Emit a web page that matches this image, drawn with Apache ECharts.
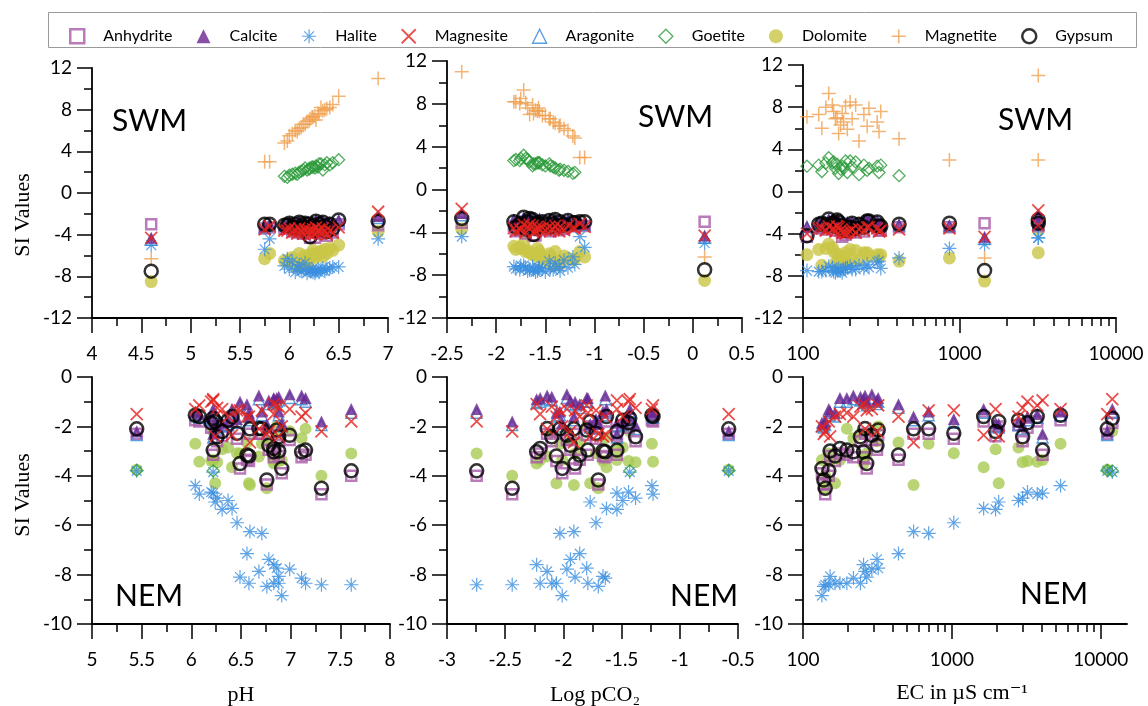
<!DOCTYPE html>
<html>
<head>
<meta charset="utf-8">
<script src="https://cdn.jsdelivr.net/npm/echarts@6/dist/echarts.min.js"></script>
<style>
  html, body { margin: 0; padding: 0; background: #fff; }
  #chart { width: 1148px; height: 706px; }
</style>
</head>
<body>
<div id="chart"></div>
<script>
// ---- SWM samples (top row) ----
const swmPH   = [4.6, 6.9, 5.8, 5.75, 5.95, 5.98, 6.00, 6.03, 6.06, 6.08, 6.10, 6.12, 6.14, 6.16, 6.18, 6.20, 6.21, 6.23, 6.24, 6.26, 6.27, 6.29, 6.30, 6.32, 6.34, 6.36, 6.38, 6.41, 6.44, 6.50];
const swmPCO2 = [0.12, -2.35, -1.15, -1.10, -1.20, -1.22, -1.27, -1.31, -1.35, -1.36, -1.40, -1.42, -1.45, -1.46, -1.50, -1.53, -1.62, -1.56, -1.58, -1.60, -1.66, -1.57, -1.68, -1.80, -1.63, -1.76, -1.70, -1.82, -1.75, -1.72];
const swmEC   = [1446, 3186, 3186, 862, 228, 411, 169, 306, 132, 192, 257, 174, 182, 298, 161, 206, 106, 245, 126, 178, 165, 314, 157, 217, 264, 140, 187, 154, 200, 146];
const swmAnhydrite = [-3.0, -3.1, -3.3, -3.4, -3.4, -3.4, -3.3, -3.7, -3.4, -3.8, -3.2, -3.6, -3.9, -3.3, -3.7, -3.4, -4.3, -3.8, -3.5, -4.3, -3.1, -3.7, -3.4, -3.9, -3.2, -3.6, -4.1, -3.4, -3.8, -3.0];
const swmCalcite   = [-4.3, -2.2, -3.0, -3.2, -3.0, -3.1, -2.8, -3.0, -3.2, -2.9, -2.7, -3.1, -2.9, -2.8, -3.2, -2.9, -3.3, -2.7, -2.9, -3.1, -2.6, -3.0, -2.8, -3.1, -2.7, -2.9, -3.0, -2.8, -3.0, -2.6];
const swmHalite    = [-5.0, -4.4, -4.4, -5.4, -7.0, -6.3, -7.3, -6.6, -7.6, -7.2, -6.9, -7.5, -7.4, -6.7, -7.7, -7.4, -7.5, -7.3, -7.6, -7.7, -7.5, -7.3, -7.6, -7.4, -7.2, -7.5, -7.3, -7.2, -7.1, -7.1];
const swmMagnesite = [-4.3, -1.8, -3.2, -3.5, -3.6, -3.6, -3.4, -3.8, -3.5, -3.9, -3.4, -3.7, -3.9, -3.5, -3.8, -3.6, -4.0, -3.7, -3.5, -3.9, -3.3, -3.7, -3.5, -3.9, -3.4, -3.7, -4.0, -3.6, -3.8, -3.3];
const swmAragonite = [-4.5, -2.4, -3.1, -3.3, -3.1, -3.2, -2.9, -3.1, -3.3, -3.0, -2.8, -3.2, -3.0, -2.9, -3.3, -3.0, -3.4, -2.8, -3.0, -3.2, -2.7, -3.1, -2.9, -3.2, -2.8, -3.0, -3.1, -2.9, -3.1, -2.7];
const swmGoetite   = [null, null, null, null, 1.6, 1.5, 1.7, 1.8, 1.9, 1.8, 2.0, 2.1, 2.2, 2.4, 2.2, 2.3, 2.4, 2.5, 2.5, 2.4, 2.6, 2.5, 2.8, 2.8, 2.2, 2.7, 2.9, 2.7, 2.9, 3.2];
const swmDolomite  = [-8.5, -3.7, -5.8, -6.3, -6.5, -6.6, -6.4, -6.2, -7.0, -6.6, -5.8, -7.1, -6.2, -6.0, -6.8, -6.5, -6.0, -5.8, -5.5, -6.2, -5.9, -6.0, -5.7, -5.6, -6.1, -5.4, -5.8, -5.3, -5.5, -5.0];
const swmMagnetite = [-6.3, 11.0, 3.0, 3.0, 4.8, 5.0, 5.5, 5.7, 6.0, 5.9, 6.2, 6.3, 6.6, 6.6, 6.9, 6.9, 7.1, 7.3, 7.3, 7.4, 7.0, 7.6, 7.6, 8.2, 7.9, 8.0, 8.1, 8.2, 8.5, 9.3];
const swmGypsum    = [-7.5, -2.7, -3.0, -3.0, -3.1, -3.1, -2.9, -3.3, -3.0, -3.4, -2.8, -3.2, -3.5, -2.9, -3.3, -3.0, -4.2, -3.4, -3.1, -3.6, -2.7, -3.3, -3.0, -3.5, -2.8, -3.2, -3.7, -3.0, -3.4, -2.6];

// ---- NEM samples (bottom row) ----
const nemPH   = [6.91, 6.76, 7.31, 7.61, 6.58, 6.83, 6.88, 7.15, 7.11, 6.49, 6.88, 6.68, 6.99, 6.86, 6.83, 6.78, 6.56, 6.71, 6.59, 6.46, 6.31, 6.41, 6.24, 6.37, 6.26, 6.08, 6.22, 6.20, 6.04, 6.22, 5.45];
const nemPCO2 = [-2.01, -1.70, -2.44, -2.745, -2.06, -2.20, -2.10, -1.79, -1.64, -1.90, -1.66, -2.14, -1.97, -1.80, -2.23, -1.94, -1.86, -2.03, -1.91, -1.72, -1.54, -1.63, -1.77, -1.49, -1.38, -1.23, -1.54, -1.44, -1.24, -1.43, -0.58];
const nemEC   = [134, 138, 141, 149, 164, 177, 243, 197, 218, 268, 152, 261, 290, 320, 255, 314, 438, 698, 553, 1030, 1966, 1634, 2063, 2800, 2985, 3742, 4066, 3219, 5370, 11950, 11050];
const nemAnhydrite = [-3.90, -4.35, -4.75, -4.00, -3.40, -3.10, -2.60, -3.15, -3.25, -3.70, -3.20, -2.30, -2.55, -2.35, -3.25, -2.95, -3.35, -2.30, -2.30, -2.50, -2.40, -1.80, -2.00, -1.95, -2.60, -1.80, -3.15, -2.05, -1.75, -1.85, -2.30];
const nemCalcite   = [-1.85, -1.90, -1.80, -1.30, -1.45, -0.85, -0.80, -0.85, -0.75, -1.00, -1.40, -0.75, -0.70, -0.85, -0.90, -0.95, -1.10, -1.40, -1.60, -1.70, -1.85, -1.30, -1.90, -1.80, -1.95, -1.50, -2.30, -1.60, -1.40, -1.30, -2.20];
const nemHalite    = [-8.85, -8.48, -8.41, -8.41, -8.35, -8.35, -8.35, -8.35, -8.14, -8.10, -8.07, -7.87, -7.78, -7.74, -7.60, -7.38, -7.15, -6.33, -6.26, -5.90, -5.36, -5.32, -5.06, -5.00, -4.90, -4.74, -4.70, -4.66, -4.40, -3.85, -3.80];
const nemMagnesite = [-2.00, -2.30, -2.20, -1.80, -1.60, -1.50, -1.20, -1.45, -1.60, -1.35, -2.40, -2.10, -1.30, -1.15, -1.10, -2.20, -1.60, -1.35, -2.65, -1.35, -1.30, -2.35, -2.40, -1.60, -1.25, -1.15, -0.95, -1.00, -1.30, -0.90, -1.50];
const nemAragonite = [-2.00, -2.05, -1.95, -1.45, -1.60, -1.00, -0.95, -1.00, -0.90, -1.15, -1.55, -0.90, -0.85, -1.00, -1.05, -1.10, -1.25, -1.55, -1.75, -1.85, -2.00, -1.45, -2.05, -1.95, -2.10, -1.65, -2.45, -1.75, -1.55, -1.45, -2.35];
const nemGoetite   = [null, null, null, null, null, null, null, null, null, null, null, null, null, null, null, null, null, null, null, null, null, null, null, null, null, null, null, null, null, -3.80, -3.78];
const nemDolomite  = [-3.36, -4.50, -4.00, -3.10, -4.30, -3.36, -2.30, -2.10, -2.48, -3.10, -3.40, -3.22, -2.20, -2.00, -3.50, -2.60, -2.65, -2.70, -4.37, -3.09, -2.93, -3.65, -4.30, -2.85, -3.45, -3.43, -3.36, -3.40, -2.70, -2.20, -3.75];
const nemMagnetite = [];
const nemGypsum    = [-3.70, -4.17, -4.50, -3.80, -3.20, -2.89, -2.42, -2.96, -3.03, -3.50, -3.00, -2.09, -2.36, -2.15, -3.03, -2.76, -3.16, -2.10, -2.10, -2.28, -2.21, -1.60, -1.80, -1.75, -2.42, -1.60, -2.96, -1.85, -1.55, -1.67, -2.10];

// ---- axis ticks ----
const ecLabels = [100, 1000, 10000];
const ecMinor = [200, 300, 400, 500, 600, 700, 800, 900, 2000, 3000, 4000, 5000, 6000, 7000, 8000, 9000];

const minerals = ['Anhydrite', 'Calcite', 'Halite', 'Magnesite', 'Aragonite', 'Goetite', 'Dolomite', 'Magnetite', 'Gypsum'];
const drawOrder = ['Dolomite', 'Anhydrite', 'Halite', 'Goetite', 'Magnetite', 'Aragonite', 'Calcite', 'Gypsum', 'Magnesite'];
const swm = { Anhydrite: swmAnhydrite, Calcite: swmCalcite, Halite: swmHalite, Magnesite: swmMagnesite, Aragonite: swmAragonite, Goetite: swmGoetite, Dolomite: swmDolomite, Magnetite: swmMagnetite, Gypsum: swmGypsum };
const nem = { Anhydrite: nemAnhydrite, Calcite: nemCalcite, Halite: nemHalite, Magnesite: nemMagnesite, Aragonite: nemAragonite, Goetite: nemGoetite, Dolomite: nemDolomite, Magnetite: nemMagnetite, Gypsum: nemGypsum };

const SANS = 'Lato, "Open Sans", sans-serif';
const SERIF = '"Liberation Serif", "DejaVu Serif", serif';
const NONE = 'rgba(0,0,0,0)';
const ASTERISK = 'path://M5 0L5 10M0 5L10 5M1.5 1.5L8.5 8.5M8.5 1.5L1.5 8.5';
const CROSS = 'path://M0 0L10 10M10 0L0 10';
const PLUS = 'path://M5 0L5 10M0 5L10 5';
// square-proportioned paths so legend icons keep their aspect
const SQUARE = 'path://M0 0L10 0L10 10L0 10Z';
const TRIANGLE = 'path://M5 0L10 10L0 10Z';
const DIAMOND = 'path://M5 0L10 5L5 10L0 5Z';

const look = {
  Anhydrite: { symbol: 'rect', icon: SQUARE, size: 10, itemStyle: { color: NONE, borderColor: '#a95aa9', borderWidth: 2.5 } },
  Calcite:   { symbol: 'triangle', icon: TRIANGLE, size: 12, itemStyle: { color: '#6a2590' } },
  Halite:    { symbol: ASTERISK, size: 14, itemStyle: { color: NONE, borderColor: '#3a8ee0', borderWidth: 1.2 } },
  Magnesite: { symbol: CROSS, size: 12, itemStyle: { color: NONE, borderColor: '#e4231f', borderWidth: 1.8 } },
  Aragonite: { symbol: 'triangle', icon: TRIANGLE, size: 11, itemStyle: { color: NONE, borderColor: '#2f86d6', borderWidth: 1.4 } },
  Goetite:   { symbol: 'diamond', icon: DIAMOND, size: 12, itemStyle: { color: NONE, borderColor: '#2a9a3a', borderWidth: 1.3 } },
  Dolomite:  { symbol: 'circle', size: 12, itemStyle: { color: '#c9c646' } },
  Magnetite: { symbol: PLUS, size: 14, itemStyle: { color: NONE, borderColor: '#f0a050', borderWidth: 1.5 } },
  Gypsum:    { symbol: 'circle', size: 13, itemStyle: { color: NONE, borderColor: '#000', borderWidth: 2.5 } }
};

const grids = [
  { left: 92, top: 68, width: 296, height: 250 },
  { left: 447, top: 61, width: 295, height: 257 },
  { left: 803, top: 65, width: 313, height: 253 },
  { left: 92, top: 377, width: 298, height: 247 },
  { left: 447, top: 377, width: 291, height: 247 },
  { left: 803, top: 377, width: 324, height: 247 }
].map(g => Object.assign({ outerBoundsMode: 'none' }, g));

const lineStyle = { color: '#000', width: 1.8 };
const tickStyle = { color: '#000', width: 1.5 };

function valueAxis(gridIndex, min, max, interval, margin) {
  return {
    gridIndex, type: 'value', min, max, interval,
    axisLine: { show: true, onZero: false, lineStyle },
    axisTick: { show: true, length: 15, lineStyle: tickStyle },
    minorTick: { show: true, splitNumber: 2, length: 8, lineStyle: tickStyle },
    splitLine: { show: false },
    axisLabel: { color: '#000', fontFamily: SANS, fontSize: 19, margin }
  };
}
function logAxis(gridIndex, max) {
  return {
    gridIndex, type: 'log', logBase: 10, min: 100, max, position: 'bottom',
    axisLine: { show: true, onZero: false, lineStyle },
    axisTick: { show: true, length: 15, lineStyle: tickStyle, customValues: ecLabels },
    splitLine: { show: false },
    axisLabel: { color: '#000', fontFamily: SANS, fontSize: 19, margin: 26, customValues: ecLabels, formatter: v => String(Math.round(v)) }
  };
}
function logMinorAxis(gridIndex, max) {
  return {
    gridIndex, type: 'log', logBase: 10, min: 100, max, position: 'bottom',
    axisLine: { show: false, onZero: false },
    axisTick: { show: true, length: 8, lineStyle: tickStyle, customValues: ecMinor },
    splitLine: { show: false },
    axisLabel: { show: false }
  };
}

const xAxes = [
  valueAxis(0, 4, 7, 0.5, 26),
  valueAxis(1, -2.5, 0.5, 0.5, 26),
  logAxis(2, 10000),
  valueAxis(3, 5, 8, 0.5, 26),
  valueAxis(4, -3, -0.5, 0.5, 26),
  logAxis(5, 15000),
  logMinorAxis(2, 10000),
  logMinorAxis(5, 15000)
];
const yAxes = [
  valueAxis(0, -12, 12, 4, 20),
  valueAxis(1, -12, 12, 4, 20),
  valueAxis(2, -12, 12, 4, 20),
  valueAxis(3, -10, 0, 2, 20),
  valueAxis(4, -10, 0, 2, 20),
  valueAxis(5, -10, 0, 2, 20)
];

const panels = [
  { x: swmPH, si: swm, dol: '#c9c646', dolSize: 13 },
  { x: swmPCO2, si: swm, dol: '#c9c646', dolSize: 13 },
  { x: swmEC, si: swm, dol: '#c9c646', dolSize: 13 },
  { x: nemPH, si: nem, dol: '#a9ca52', dolSize: 12 },
  { x: nemPCO2, si: nem, dol: '#a9ca52', dolSize: 12 },
  { x: nemEC, si: nem, dol: '#a9ca52', dolSize: 12 }
];

const series = [];
panels.forEach((p, i) => {
  drawOrder.forEach(m => {
    const vals = p.si[m];
    const data = p.x.map((v, k) => [v, vals[k]]).filter(d => d[1] != null);
    const st = look[m];
    const itemStyle = Object.assign({}, st.itemStyle);
    let size = st.size;
    if (m === 'Dolomite') { itemStyle.color = p.dol; size = p.dolSize; }
    series.push({
      type: 'scatter', name: m, xAxisIndex: i, yAxisIndex: i,
      symbol: st.symbol, symbolSize: size, itemStyle, data,
      silent: true, animation: false
    });
  });
});

function label(text, x, y, opts) {
  return {
    type: 'text', x, y,
    style: Object.assign({ text, fill: '#000', font: '30px ' + SANS, align: 'left', verticalAlign: 'middle' }, opts || {})
  };
}

const graphic = [
  { type: 'rect', shape: { x: 48.5, y: 12.5, width: 1088, height: 35 }, style: { fill: 'none', stroke: '#9a9a9a', lineWidth: 1 } },
  label('SWM', 112, 121),
  label('SWM', 638, 117),
  label('SWM', 998, 120),
  label('NEM', 115, 596),
  label('NEM', 670, 596),
  label('NEM', 1020, 594),
  Object.assign(label('SI Values', 23, 215, { font: '22px ' + SERIF, align: 'center' }), { rotation: Math.PI / 2 }),
  Object.assign(label('SI Values', 23, 495, { font: '22px ' + SERIF, align: 'center' }), { rotation: Math.PI / 2 }),
  label('pH', 241, 695, { font: '22px ' + SERIF, align: 'center' }),
  label('Log pCO\u2082', 595, 695, { font: '22px ' + SERIF, align: 'center' }),
  label('EC in \u00b5S cm\u207b\u00b9', 962, 693, { font: '22px ' + SERIF, align: 'center' })
];

const chart = echarts.init(document.getElementById('chart'));
chart.setOption({
  animation: false,
  backgroundColor: '#fff',
  grid: grids,
  xAxis: xAxes,
  yAxis: yAxes,
  legend: {
    left: 64, top: 23, itemWidth: 42, itemHeight: 14, itemGap: 24,
    symbolKeepAspect: true,
    selectedMode: false,
    textStyle: { color: '#000', fontFamily: SANS, fontSize: 16 },
    data: minerals.map(m => ({ name: m, icon: look[m].icon || look[m].symbol, itemStyle: Object.assign({}, look[m].itemStyle) }))
  },
  graphic,
  series
});
</script>
</body>
</html>
